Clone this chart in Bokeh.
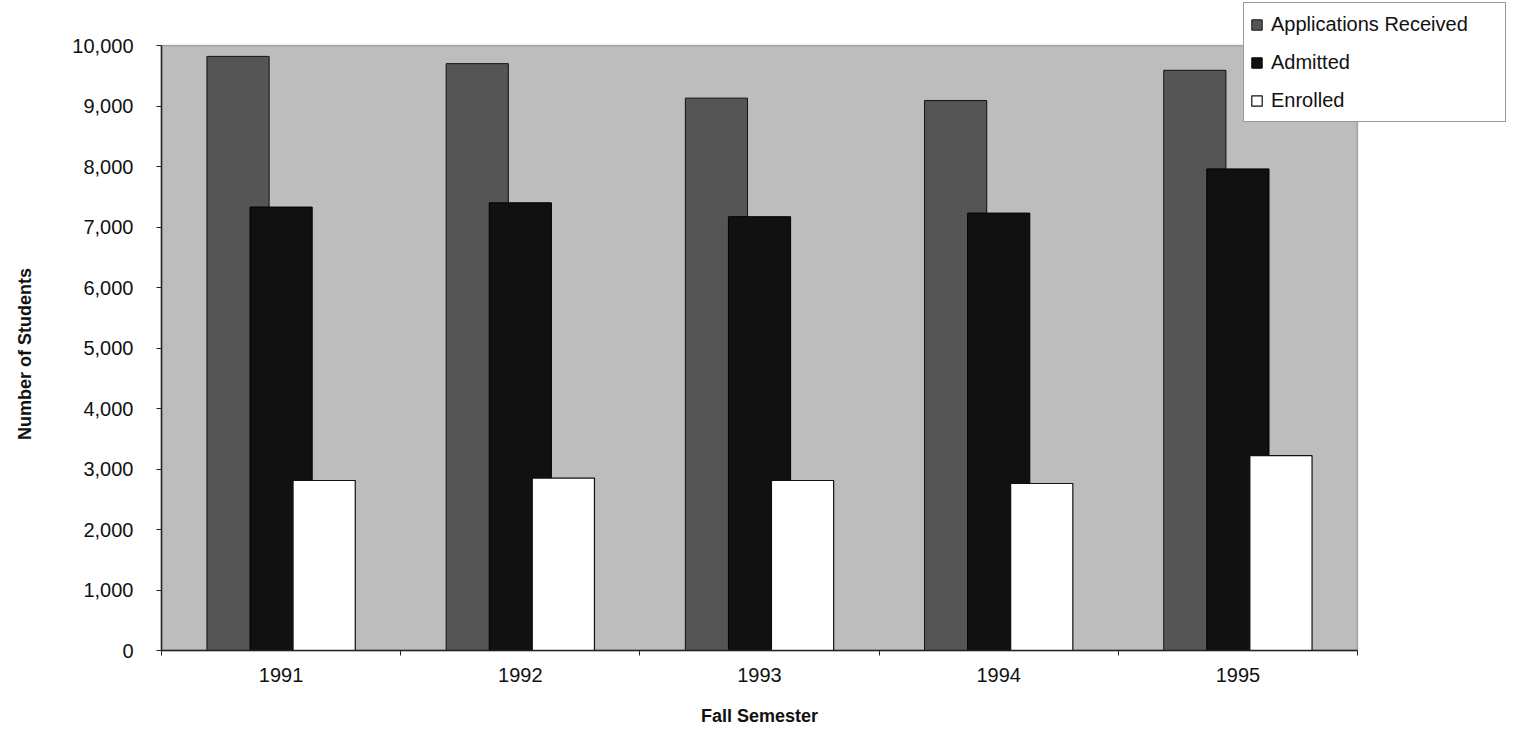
from bokeh.plotting import figure
from bokeh.models import (Range1d, FixedTicker, NumeralTickFormatter, Legend,
                          LegendItem, ColumnDataSource, BoxAnnotation, Label)
from bokeh.transform import dodge
from bokeh.embed import file_html
from bokeh.resources import INLINE
import numpy as np

years = ["1991", "1992", "1993", "1994", "1995"]
applications = [9820, 9700, 9130, 9090, 9590]
admitted = [7330, 7400, 7170, 7230, 7960]
enrolled = [2810, 2850, 2810, 2760, 3220]
y_ticks = [0, 1000, 2000, 3000, 4000, 5000, 6000, 7000, 8000, 9000, 10000]
series_names = ["Applications Received", "Admitted", "Enrolled"]
x_title = "Fall Semester"
y_title = "Number of Students"

FONT = "Liberation Sans"

# layout (pixels): the grey plot area sits inside a frame that fills the figure
W, H = 1509, 727
AREA_L, AREA_T, AREA_W, AREA_H = 161, 45, 1196, 605
AREA_B = AREA_T + AREA_H

n = len(years)
y_max = y_ticks[-1]
x_per_px = n / AREA_W
y_per_px = y_max / AREA_H
x_range = Range1d(-AREA_L * x_per_px, n + (W - AREA_L - AREA_W) * x_per_px)
y_range = Range1d(-(H - AREA_B) * y_per_px, y_max + AREA_T * y_per_px)

centers = list(np.arange(n) + 0.5)
src = ColumnDataSource(dict(x=centers, year=years, app=applications,
                            adm=admitted, enr=enrolled))

p = figure(width=W, height=H, output_backend="svg", toolbar_location=None,
           x_range=x_range, y_range=y_range,
           min_border=0, min_border_left=0, min_border_right=0,
           min_border_top=0, min_border_bottom=0)

p.background_fill_color = "white"
p.border_fill_color = "white"
p.outline_line_color = None
p.xgrid.visible = False
p.ygrid.visible = False

# grey plot area with its dark frame
area = BoxAnnotation(left=0, right=n, bottom=0, top=y_max,
                     fill_color="#bdbdbd", fill_alpha=1.0,
                     line_color="#222222", line_width=1.5, level="underlay")
p.add_layout(area)

w = 0.26
r1 = p.vbar(x=dodge("x", -0.18, range=p.x_range), top="app", width=w, bottom=0,
            source=src, fill_color="#555555", line_color="#111111", line_width=1)
r2 = p.vbar(x=dodge("x", 0.0, range=p.x_range), top="adm", width=w, bottom=0,
            source=src, fill_color="#111111", line_color="#000000", line_width=1)
r3 = p.vbar(x=dodge("x", 0.18, range=p.x_range), top="enr", width=w, bottom=0,
            source=src, fill_color="#ffffff", line_color="#111111", line_width=1.2)

# x axis: labels at category centres, small ticks at category boundaries
xa = p.xaxis[0]
xa.fixed_location = 0
xa.bounds = (0, n)
xa.ticker = FixedTicker(ticks=centers, minor_ticks=list(range(n + 1)))
xa.major_label_overrides = {c: y for c, y in zip(centers, years)}
xa.major_tick_line_color = None
xa.major_tick_out = 5
xa.major_tick_in = 0
xa.minor_tick_out = 5
xa.minor_tick_in = 0
xa.minor_tick_line_color = "#222222"
xa.axis_line_color = "#222222"
xa.axis_line_width = 1.5
xa.major_label_text_font = FONT
xa.major_label_text_font_size = "20px"
xa.major_label_text_color = "#111111"
xa.major_label_standoff = 12

ya = p.yaxis[0]
ya.fixed_location = 0
ya.bounds = (0, y_max)
ya.ticker = FixedTicker(ticks=y_ticks)
ya.formatter = NumeralTickFormatter(format="0,0")
ya.major_tick_out = 5
ya.major_tick_in = 0
ya.minor_tick_line_color = None
ya.major_tick_line_color = "#222222"
ya.axis_line_color = "#222222"
ya.axis_line_width = 1.5
ya.major_label_text_font = FONT
ya.major_label_text_font_size = "20px"
ya.major_label_text_color = "#111111"
ya.major_label_standoff = 23

# axis titles
p.add_layout(Label(x=n / 2, y=H - 715, x_units="data", y_units="screen",
                   text=x_title, text_align="center", text_baseline="middle",
                   text_font=FONT, text_font_style="bold",
                   text_font_size="18px", text_color="#111111"))
p.add_layout(Label(x=24, y=y_max / 2, x_units="screen", y_units="data",
                   y_offset=-6, angle=np.pi / 2,
                   text=y_title, text_align="center", text_baseline="middle",
                   text_font=FONT, text_font_style="bold",
                   text_font_size="18px", text_color="#111111"))

legend = Legend(items=[LegendItem(label=series_names[0], renderers=[r1]),
                       LegendItem(label=series_names[1], renderers=[r2]),
                       LegendItem(label=series_names[2], renderers=[r3])],
                location=(1243, H - 122))
legend.label_text_font = FONT
legend.label_text_font_size = "20px"
legend.label_text_color = "#111111"
legend.glyph_width = 13
legend.glyph_height = 13
legend.label_height = 30
legend.label_width = 228
legend.label_standoff = 8
legend.spacing = 8
legend.padding = 6
legend.margin = 0
legend.border_line_color = "#333333"
legend.border_line_width = 1.2
legend.background_fill_color = "white"
legend.background_fill_alpha = 1.0
p.add_layout(legend, "center")

open("out.html", "w").write(file_html(p, INLINE))
